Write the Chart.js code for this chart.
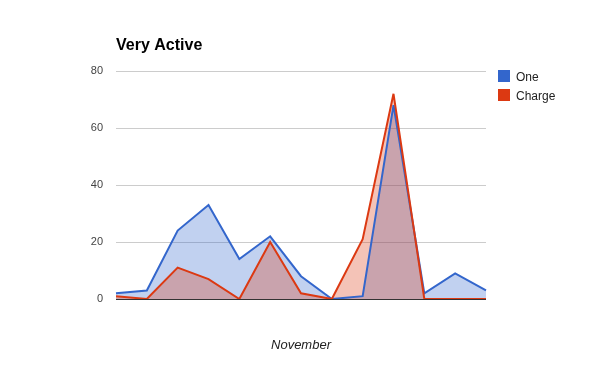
<!DOCTYPE html>
<html><head><meta charset="utf-8">
<script src="https://cdn.jsdelivr.net/npm/chart.js@4"></script>
<style>html,body{margin:0;padding:0;background:#fff}#w{width:600px;height:371px}</style>
</head><body><div id="w"><canvas id="c" width="600" height="371"></canvas></div>
<script>
const categories = ["1","2","3","4","5","6","7","8","9","10","11","12","13"];
const oneValues = [2, 3, 24, 33, 14, 22, 8, 0, 1, 68, 2, 9, 3];
const chargeValues = [1, 0, 11, 7, 0, 20, 2, 0, 21, 72, 0, 0, 0];
const yTicks = [0, 20, 40, 60, 80];
const titleText = "Very Active";
const axisTitle = "November";

const FONT = "'Liberation Sans', Arial, sans-serif";

const miter = {
  id: 'miter',
  beforeDatasetsDraw(chart) { chart.ctx.miterLimit = 4; }
};

const overlay = {
  id: 'overlay',
  afterDraw(chart) {
    const ctx = chart.ctx;
    const area = chart.chartArea;
    ctx.save();
    ctx.fillStyle = '#000';
    ctx.font = "bold 16px " + FONT;
    ctx.textAlign = 'left';
    ctx.textBaseline = 'alphabetic';
    ctx.fillText(titleText, area.left, 50);
    ctx.font = "italic 13px " + FONT;
    ctx.fillStyle = '#222';
    ctx.textAlign = 'center';
    ctx.fillText(axisTitle, (area.left + area.right) / 2, 349);
    ctx.textAlign = 'left';
    ctx.font = "12px " + FONT;
    chart.data.datasets.forEach((ds, i) => {
      const y = 70 + i * 19;
      ctx.fillStyle = ds.borderColor;
      ctx.fillRect(498, y, 12, 12);
      ctx.fillStyle = '#222';
      ctx.fillText(ds.label, 516, y + 11);
    });
    ctx.restore();
  }
};

new Chart(document.getElementById('c'), {
  type: 'line',
  data: {
    labels: categories,
    datasets: [
      { label: 'One', data: oneValues, borderColor: '#3366cc', backgroundColor: 'rgba(51,102,204,0.3)', fill: 'origin', borderWidth: 2, pointRadius: 0, tension: 0, order: 1 },
      { label: 'Charge', data: chargeValues, borderColor: '#dc3912', backgroundColor: 'rgba(220,57,18,0.3)', fill: 'origin', borderWidth: 2, pointRadius: 0, tension: 0, order: 0 }
    ]
  },
  options: {
    responsive: false,
    animation: false,
    devicePixelRatio: 1,
    layout: { padding: { top: 71, right: 114, left: 0, bottom: 0 } },
    plugins: { legend: { display: false }, title: { display: false }, tooltip: { enabled: false }, filler: { drawTime: 'beforeDatasetsDraw' } },
    scales: {
      x: {
        offset: false,
        grid: { display: false, drawTicks: false },
        border: { display: false },
        ticks: { display: false },
        afterFit(s) { s.height = 72; }
      },
      y: {
        min: 0, max: 80,
        afterBuildTicks(s) { s.ticks = yTicks.map(v => ({ value: v })); },
        grid: { color: c => c.tick && c.tick.value === 0 ? '#333333' : '#cccccc', drawTicks: false, lineWidth: 1 },
        border: { display: false },
        ticks: { padding: 13, color: '#444', font: { family: FONT, size: 11 } },
        afterFit(s) { s.width = 116; }
      }
    }
  },
  plugins: [miter, overlay]
});
</script></body></html>
